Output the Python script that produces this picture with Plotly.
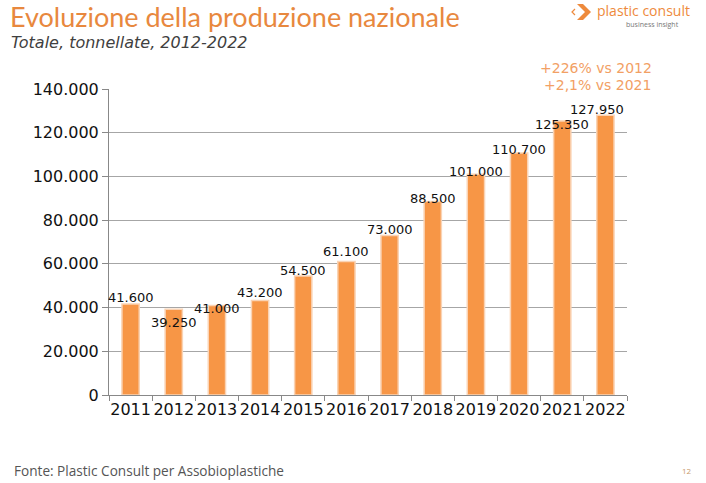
import plotly.graph_objects as go

years = ["2011", "2012", "2013", "2014", "2015", "2016", "2017", "2018", "2019", "2020", "2021", "2022"]
production = [41600, 39250, 41000, 43200, 54500, 61100, 73000, 88500, 101000, 110700, 125350, 127950]
value_labels = ["41.600", "39.250", "41.000", "43.200", "54.500", "61.100", "73.000", "88.500",
                "101.000", "110.700", "125.350", "127.950"]
y_ticks = [0, 20000, 40000, 60000, 80000, 100000, 120000, 140000]

# cosmetic label nudges (pixels) to mimic the original placement
label_dy = [7, -13, -3, 8, 5, 10, 6, 3, 3, 4, -3, 6]
label_dx = [0, 0, 0, 0, 0, 0, 0, 0, 0, 0, 0, -8]

ORANGE = "#F79646"
TITLE_ORANGE = "#E8883E"

W, H = 706, 483
ML, MR, MT, MB = 109, 79, 89, 88
PW, PH = W - ML - MR, H - MT - MB


def px(x):
    return (x - ML) / PW


def py(y):
    return (H - MB - y) / PH


fig = go.Figure()
fig.add_trace(go.Bar(
    x=years, y=production,
    marker=dict(color=ORANGE, line=dict(color="#FAD3B4", width=1.5)),
    width=0.4,
    hoverinfo="skip",
))

annotations = []
for i, (v, t, dy, dx) in enumerate(zip(production, value_labels, label_dy, label_dx)):
    annotations.append(dict(
        x=i, y=v, xref="x", yref="y", text=t, showarrow=False,
        yanchor="middle", xanchor="center", yshift=dy, xshift=dx,
        font=dict(family="DejaVu Sans", size=13, color="#111111"),
    ))

# titles and decorations
annotations += [
    dict(text="Evoluzione della produzione nazionale", x=px(8), y=py(17),
         xref="paper", yref="paper", xanchor="left", yanchor="middle", showarrow=False,
         font=dict(family="Lato", size=27, color=TITLE_ORANGE)),
    dict(text="<i>Totale, tonnellate, 2012-2022</i>", x=px(9), y=py(42),
         xref="paper", yref="paper", xanchor="left", yanchor="middle", showarrow=False,
         font=dict(family="DejaVu Sans", size=16, color="#404040")),
    dict(text="plastic consult", x=px(692), y=py(10),
         xref="paper", yref="paper", xanchor="right", yanchor="middle", showarrow=False,
         font=dict(family="Open Sans", size=14, color="#EE8A3C")),
    dict(text="business insight", x=px(681), y=py(24),
         xref="paper", yref="paper", xanchor="right", yanchor="middle", showarrow=False,
         font=dict(family="Open Sans", size=7, color="#777777")),
    dict(text="+226% vs 2012", x=px(596), y=py(68),
         xref="paper", yref="paper", xanchor="center", yanchor="middle", showarrow=False,
         font=dict(family="DejaVu Sans", size=14, color="#F2A064")),
    dict(text="+2,1% vs 2021", x=px(597), y=py(85),
         xref="paper", yref="paper", xanchor="center", yanchor="middle", showarrow=False,
         font=dict(family="DejaVu Sans", size=14, color="#F2A064")),
    dict(text="Fonte: Plastic Consult per Assobioplastiche", x=px(12), y=py(470),
         xref="paper", yref="paper", xanchor="left", yanchor="middle", showarrow=False,
         font=dict(family="Open Sans", size=13.6, color="#555555")),
    dict(text="12", x=px(694), y=py(470),
         xref="paper", yref="paper", xanchor="right", yanchor="middle", showarrow=False,
         font=dict(family="Open Sans", size=8, color="#C89A6A")),
]

shapes = [
    # logo chevron
    dict(type="path", xref="paper", yref="paper",
         path="M %f %f L %f %f L %f %f L %f %f L %f %f L %f %f Z" % (
             px(577), py(4), px(583), py(4), px(591), py(12),
             px(583), py(20), px(577), py(20), px(585), py(12)),
         fillcolor="#EE8A3C", line=dict(width=0)),
    dict(type="path", xref="paper", yref="paper",
         path="M %f %f L %f %f L %f %f" % (
             px(575), py(9), px(572), py(12), px(575), py(15)),
         line=dict(color="#EE8A3C", width=1.2)),
]

fig.update_layout(
    width=W, height=H,
    margin=dict(l=ML, r=MR, t=MT, b=MB),
    paper_bgcolor="white", plot_bgcolor="white",
    separators=",.",
    showlegend=False,
    annotations=annotations,
    shapes=shapes,
    xaxis=dict(
        type="category", range=[-0.5, len(years) - 0.5],
        tickson="boundaries", ticks="outside", ticklen=5, tickcolor="#888888",
        showline=True, linecolor="#888888", linewidth=1,
        showgrid=False, tickangle=0,
        tickfont=dict(family="DejaVu Sans", size=16, color="#111111"),
        fixedrange=True,
    ),
    yaxis=dict(
        range=[0, 140000], tickvals=y_ticks, tickformat=",d",
        ticks="outside", ticklen=6, tickcolor="#888888",
        showline=True, linecolor="#888888", linewidth=1,
        showgrid=True, gridcolor="#A6A6A6", gridwidth=1,
        zeroline=False,
        tickfont=dict(family="DejaVu Sans", size=16, color="#111111"),
        fixedrange=True,
    ),
)

fig.write_html("out.html", config={"displayModeBar": False})
